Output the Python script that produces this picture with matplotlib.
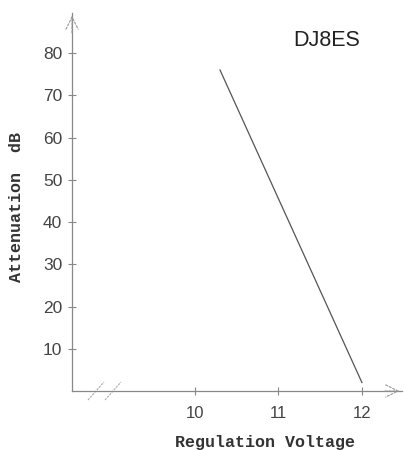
import matplotlib
matplotlib.use("Agg")
import matplotlib.pyplot as plt

# Data
voltage = [10.3, 12.0]
attenuation = [76, 2]
yticks = [10, 20, 30, 40, 50, 60, 70, 80]
xticks = [10, 11, 12]
title = "DJ8ES"
xlabel = "Regulation Voltage"
ylabel = "Attenuation  dB"

W, H = 404, 450
fig = plt.figure(figsize=(W / 100, H / 100), dpi=100)
ax = fig.add_axes([72 / W, 1 - 391 / H, 330 / W, 378 / H])

ax.plot(voltage, attenuation, color="#555555", lw=0.9)

ax.set_xlim(8.527, 12.48)
ax.set_ylim(0, 89.5)
ax.set_xticks(xticks)
ax.set_yticks(yticks)
ax.set_xticklabels([str(v) for v in xticks], fontfamily="Liberation Sans", fontsize=12, color="#444444")
ax.set_yticklabels([str(v) for v in yticks], fontfamily="Liberation Sans", fontsize=12.5, color="#444444")
ax.tick_params(axis="both", direction="inout", length=6, width=0.8, color="#888888")
ax.tick_params(axis="y", pad=4)
ax.tick_params(axis="x", pad=8)

for s in ["top", "right"]:
    ax.spines[s].set_visible(False)
for s in ["left", "bottom"]:
    ax.spines[s].set_color("#888888")
    ax.spines[s].set_linewidth(0.9)

# arrowheads
ax.annotate("", xy=(1.0, 0), xytext=(0.94, 0), xycoords="axes fraction",
            arrowprops=dict(arrowstyle="->", color="#999999", lw=0.8, linestyle=(0, (2, 1.5)),
                            mutation_scale=22))
ax.annotate("", xy=(0, 1.0), xytext=(0, 0.94), xycoords="axes fraction",
            arrowprops=dict(arrowstyle="->", color="#999999", lw=0.8, linestyle=(0, (2, 1.5)),
                            mutation_scale=22))

# axis break marks
for cx in [96, 113]:
    x0, x1 = (cx - 8 - 72) / 330, (cx + 8 - 72) / 330
    ax.plot([x0, x1], [-9 / 378, 9 / 378], transform=ax.transAxes, color="#aaaaaa",
            lw=0.8, linestyle=(0, (2, 1)), clip_on=False)

fig.text(327 / W, 1 - 40 / H, title, fontfamily="Liberation Sans", fontsize=15.5,
         color="#222222", ha="center", va="center")
fig.text(265 / W, 1 - 442 / H, xlabel, fontfamily="Liberation Mono", fontweight="bold",
         fontsize=12, color="#333333", ha="center", va="center")
fig.text(17 / W, 1 - 207 / H, ylabel, fontfamily="Liberation Mono", fontweight="bold",
         fontsize=12, color="#333333", ha="center", va="center", rotation=90)

fig.savefig("out.png", dpi=100)
